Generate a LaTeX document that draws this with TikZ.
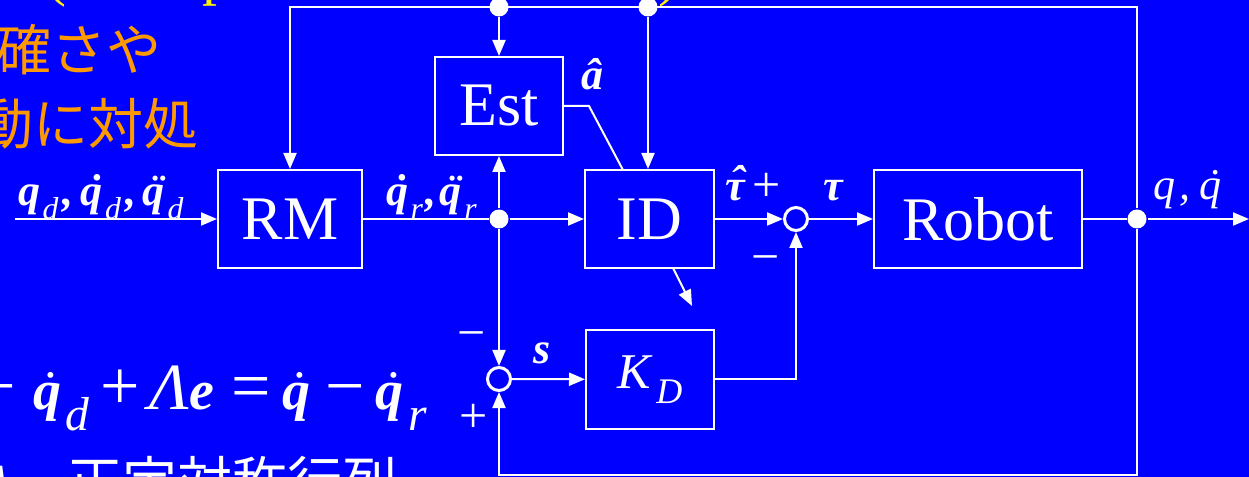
\documentclass[tikz,border=0pt]{standalone}
\usepackage{fontspec}
\setmainfont{Liberation Serif}
\newfontfamily\jpfont{Noto Sans CJK JP}
\usetikzlibrary{arrows.meta}
\definecolor{slideblue}{RGB}{0,0,255}
\definecolor{slideorange}{RGB}{255,153,0}
\newcommand\fs[1]{\fontsize{#1bp}{#1bp}\selectfont}
\newcommand\dt[1]{\ooalign{#1\cr\hidewidth\kern.14em ˙\hidewidth\cr}}
\newcommand\ddt[1]{\ooalign{#1\cr\hidewidth\kern.14em ¨\hidewidth\cr}}
\newcommand\hatt[1]{\ooalign{#1\cr\hidewidth\kern.12em\raisebox{.1em}{ˆ}\hidewidth\cr}}
\newcommand\lsub[1]{\kern.06em\raisebox{-.3em}{\mdseries\scalebox{.72}{#1}}}
\newcommand\bigsub[1]{\kern.08em\raisebox{-.38em}{\mdseries\scalebox{.85}{#1}}}
\newcommand\bq{\textbf{\textit{q}}}
\newcommand\opr[1]{{\fs{70}\mdseries\upshape #1}}

\begin{document}
\begin{tikzpicture}[x=1bp,y=-1bp,
  line width=2bp, white,
  >={Triangle[length=16bp,width=13bp]},
  block/.style={draw=white, line width=2bp, minimum height=98bp, inner sep=0pt, font=\fs{62}, text=white},
  lbl/.style={inner sep=0pt, text=white, font=\fs{44}\bfseries\itshape},
  sign/.style={inner sep=0pt, text=white, font=\fs{50}},
  dot/.style={circle, fill=white, inner sep=0pt, minimum size=19bp},
  summ/.style={circle, draw=white, line width=3bp, inner sep=0pt, minimum size=23bp}]
\fill[slideblue] (0,0) rectangle (1249,477);
\useasboundingbox (0,0) rectangle (1249,477);
\clip (0,0) rectangle (1249,477);

\node[anchor=base, inner sep=0pt, text=yellow, font=\fs{60}] (ttla) at (56,-5) {(};
\node[anchor=base, inner sep=0pt, text=yellow, font=\fs{60}] (ttlp) at (217,-6) {p};
\node[anchor=base, inner sep=0pt, text=yellow, font=\fs{60}] (ttlb) at (668,-5) {)};

\node[anchor=base east, inner sep=0pt, text=slideorange, font=\fs{55}\jpfont] (jpa) at (163,71) {不正確さや};
\node[anchor=base east, inner sep=0pt, text=slideorange, font=\fs{55}\jpfont] (jpb) at (200,145) {変動に対処};
\node[anchor=base east, inner sep=0pt, text=white, font=\fs{56}] (eqn) at (428,409)
  {\opr{−}\kern17bp\dt{\bq}\bigsub{\textit{d}}\kern11bp\opr{+}\kern9bp{\fs{66}\textit{Λ}}\textbf{\textit{e}}\kern18bp\opr{=}\kern11bp\dt{\bq}\kern15bp\opr{−}\kern11bp\dt{\bq}\bigsub{\textit{r}}};
\node[anchor=base west, inner sep=0pt, text=white, font=\fs{55}] (lam) at (-22,502) {\textit{Λ}\jpfont　正定対称行列};

\node[block, minimum width=144bp] (RM) at (290,219) {RM};
\node[block, minimum width=128bp] (Est) at (499,106) {Est};
\node[block, minimum width=129bp] (ID) at (649.5,219) {ID};
\node[block, minimum width=208bp] (Robot) at (978,219) {Robot};
\node[block, minimum width=128bp, minimum height=99bp, font=\fs{50}] (KD) at (650,379.5) {\textit{K}\lsub{\textit{D}}};

\node[summ] (sum1) at (796,219) {};
\node[summ] (sum2) at (499,379) {};
\node[dot] (d1) at (499,219) {};
\node[dot] (d2) at (499,7) {};
\node[dot] (d3) at (648,7) {};
\node[dot] (d4) at (1137,219) {};

\coordinate (in) at (15,219);
\coordinate (out) at (1249,219);
\coordinate (tr) at (1137,7);
\coordinate (br) at (1137,475);
\coordinate (kink) at (589,106);
\coordinate (tap) at (623,170);
\coordinate (gs) at (673,268);
\coordinate (ge) at (692,306);

\draw[->] (in) -- (RM);
\draw (RM) -- (d1);
\draw[->] (d1) -- (ID);
\draw[->] (d1) -- (Est);
\draw[->] (d1) -- (sum2);
\draw[->] (ID) -- (sum1);
\draw[->] (sum1) -- (Robot);
\draw (Robot) -- (d4);
\draw[->] (d4) -- (out);
\draw[->] (d4) -- (tr) -| (RM);
\draw[->] (d2) -- (Est);
\draw[->] (d3) -- (ID.north -| d3);
\draw (Est) -- (kink) -- (tap);
\draw[->] (gs) -- (ge);
\draw[->] (d4) -- (br) -| (sum2);
\draw[->] (sum2) -- (KD);
\draw[->] (KD) -| (sum1);

\node[lbl, anchor=base west] (lin) at (17,206) {\bq\lsub{d}\kern.1em,\kern.15em\dt{\bq}\lsub{d}\kern.1em,\kern.15em\ddt{\bq}\lsub{d}};
\node[lbl, anchor=base west] (lref) at (385,206) {\dt{\bq}\lsub{r}\kern.05em,\kern.08em\ddt{\bq}\lsub{r}};
\node[lbl, anchor=base west] (lahat) at (580,90) {â};
\node[lbl, anchor=base west] (ltauh) at (724,201) {\hatt{τ}};
\node[lbl, anchor=base west] (ltau) at (822,201) {τ};
\node[lbl, anchor=base west] (lout) at (1152,200) {\mdseries q\kern.1em,\kern.2em\dt{q}};
\node[lbl, anchor=base west] (ls) at (532,364) {s};
\node[sign] (pa) at (767,187) {+};
\node[sign] (ma) at (766,265) {−};
\node[sign] (mb) at (472,341) {−};
\node[sign] (pb) at (474,418) {+};
\end{tikzpicture}
\end{document}
